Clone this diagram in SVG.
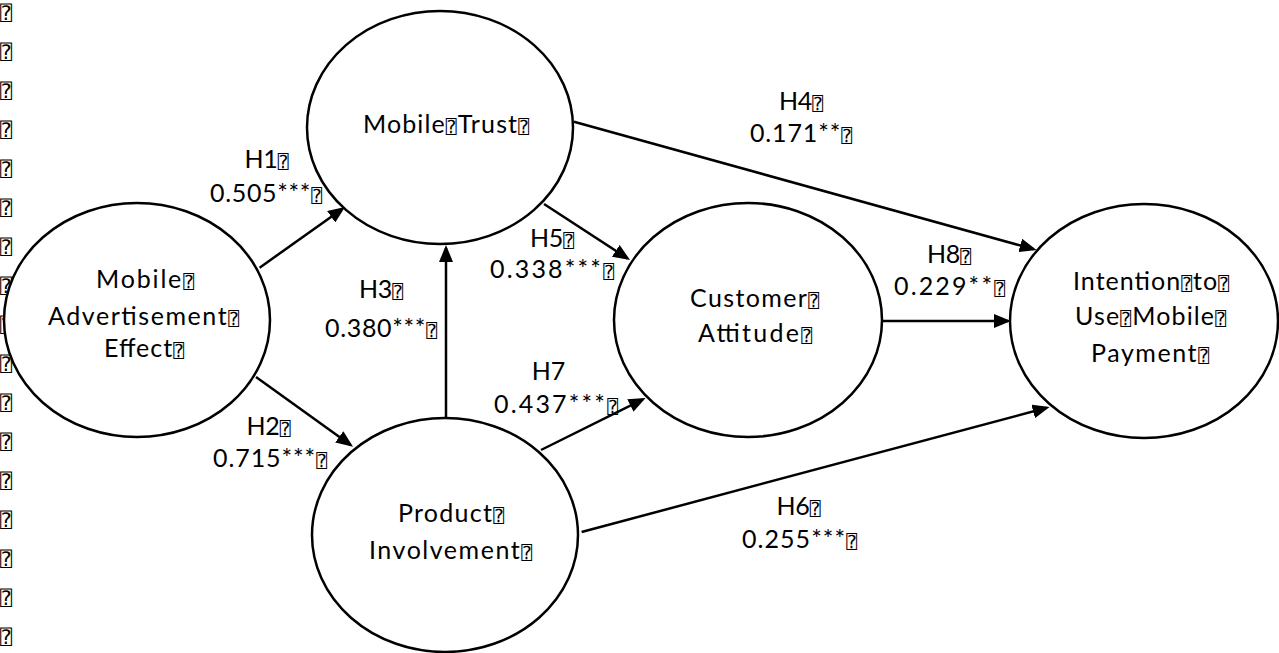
<svg xmlns="http://www.w3.org/2000/svg" width="1279" height="653" viewBox="0 0 1279 653">
  <style>
    .node ellipse { fill: #ffffff; stroke: #000000; stroke-width: 2.5; }
    .edges line { stroke: #000000; stroke-width: 2.5; fill: none; marker-end: url(#arrow); }
    text { font-family: Lato, "Liberation Sans", sans-serif; font-size: 25px; fill: #000000; text-anchor: middle; }
    .q { font-family: "DejaVu Sans Mono", "DejaVu Sans", monospace; font-size: 18px; }
    .margin text { font-family: "DejaVu Sans Mono", "DejaVu Sans", monospace; font-size: 20px; text-anchor: start; }
  </style>
  <defs>
    <marker id="arrow" markerUnits="userSpaceOnUse" markerWidth="17" markerHeight="14" refX="14" refY="7" orient="auto">
      <path d="M0,0 L17,7 L0,14 Z" fill="#000000"/>
    </marker>
  </defs>

  <rect width="1279" height="653" fill="#ffffff"/>

  <!-- column of placeholder marks along the left edge -->
  <g class="margin">
    <text x="0" y="20">⍰</text>
    <text x="0" y="59">⍰</text>
    <text x="0" y="98">⍰</text>
    <text x="0" y="137">⍰</text>
    <text x="0" y="176">⍰</text>
    <text x="0" y="215">⍰</text>
    <text x="0" y="254">⍰</text>
    <text x="0" y="293">⍰</text>
    <text x="0" y="332">⍰</text>
    <text x="0" y="371">⍰</text>
    <text x="0" y="410">⍰</text>
    <text x="0" y="449">⍰</text>
    <text x="0" y="488">⍰</text>
    <text x="0" y="527">⍰</text>
    <text x="0" y="566">⍰</text>
    <text x="0" y="605">⍰</text>
    <text x="0" y="644">⍰</text>
  </g>

  <!-- paths between constructs -->
  <g class="edges">
    <line id="e-h1" x1="259.6" y1="267.7" x2="342.6" y2="208.7"/>
    <line id="e-h2" x1="256" y1="377" x2="350.6" y2="445"/>
    <line id="e-h3" x1="446" y1="418" x2="446" y2="248"/>
    <line id="e-h4" x1="574" y1="121.7" x2="1033.7" y2="249.2"/>
    <line id="e-h5" x1="544" y1="204" x2="627.5" y2="258.4"/>
    <line id="e-h6" x1="581.6" y1="532" x2="1046.7" y2="407.8"/>
    <line id="e-h7" x1="541" y1="450" x2="642.9" y2="399.3"/>
    <line id="e-h8" x1="883" y1="321" x2="1008" y2="321"/>
  </g>

  <!-- path labels -->
  <g class="labels">
    <text x="266.5" y="168" textLength="44" lengthAdjust="spacing">H1<tspan class="q">⍰</tspan></text>
    <text x="266" y="202" textLength="112" lengthAdjust="spacing">0.505***<tspan class="q">⍰</tspan></text>
    <text x="268.5" y="435" textLength="44" lengthAdjust="spacing">H2<tspan class="q">⍰</tspan></text>
    <text x="270" y="467" textLength="114" lengthAdjust="spacing">0.715***<tspan class="q">⍰</tspan></text>
    <text x="381" y="298" textLength="44" lengthAdjust="spacing">H3<tspan class="q">⍰</tspan></text>
    <text x="381" y="337" textLength="112" lengthAdjust="spacing">0.380***<tspan class="q">⍰</tspan></text>
    <text x="801" y="110" textLength="44" lengthAdjust="spacing">H4<tspan class="q">⍰</tspan></text>
    <text x="801" y="142" textLength="102" lengthAdjust="spacing">0.171**<tspan class="q">⍰</tspan></text>
    <text x="552" y="247" textLength="44" lengthAdjust="spacing">H5<tspan class="q">⍰</tspan></text>
    <text x="552" y="278" textLength="124" lengthAdjust="spacing">0.338***<tspan class="q">⍰</tspan></text>
    <text x="798.5" y="515" textLength="44" lengthAdjust="spacing">H6<tspan class="q">⍰</tspan></text>
    <text x="799.5" y="548" textLength="115" lengthAdjust="spacing">0.255***<tspan class="q">⍰</tspan></text>
    <text x="548.5" y="380">H7</text>
    <text x="556" y="413" textLength="124" lengthAdjust="spacing">0.437***<tspan class="q">⍰</tspan></text>
    <text x="949" y="263" textLength="44" lengthAdjust="spacing">H8<tspan class="q">⍰</tspan></text>
    <text x="949.5" y="295" textLength="111" lengthAdjust="spacing">0.229**<tspan class="q">⍰</tspan></text>
  </g>

  <!-- constructs -->
  <g id="mobile-advertisement-effect" class="node">
    <ellipse cx="137" cy="320" rx="133" ry="117"/>
    <text x="145" y="288" textLength="98" lengthAdjust="spacing">Mobile<tspan class="q">⍰</tspan></text>
    <text x="143.5" y="325" textLength="191" lengthAdjust="spacing">Advertisement<tspan class="q">⍰</tspan></text>
    <text x="144" y="357" textLength="80" lengthAdjust="spacing">Effect<tspan class="q">⍰</tspan></text>
  </g>

  <g id="mobile-trust" class="node">
    <ellipse cx="440" cy="127.5" rx="133" ry="116.5"/>
    <text x="446" y="133" textLength="166" lengthAdjust="spacing">Mobile<tspan class="q">⍰</tspan>Trust<tspan class="q">⍰</tspan></text>
  </g>

  <g id="product-involvement" class="node">
    <ellipse cx="445" cy="535" rx="133" ry="117"/>
    <text x="451" y="522" textLength="106" lengthAdjust="spacing">Product<tspan class="q">⍰</tspan></text>
    <text x="450.5" y="559" textLength="163" lengthAdjust="spacing">Involvement<tspan class="q">⍰</tspan></text>
  </g>

  <g id="customer-attitude" class="node">
    <ellipse cx="748" cy="320" rx="134" ry="117"/>
    <text x="754.5" y="307" textLength="129" lengthAdjust="spacing">Customer<tspan class="q">⍰</tspan></text>
    <text x="755" y="342" textLength="114" lengthAdjust="spacing">Attitude<tspan class="q">⍰</tspan></text>
  </g>

  <g id="intention-to-use" class="node">
    <ellipse cx="1144" cy="321" rx="134" ry="117"/>
    <text x="1151" y="290" textLength="156" lengthAdjust="spacing">Intention<tspan class="q">⍰</tspan>to<tspan class="q">⍰</tspan></text>
    <text x="1150.5" y="325" textLength="151" lengthAdjust="spacing">Use<tspan class="q">⍰</tspan>Mobile<tspan class="q">⍰</tspan></text>
    <text x="1150" y="362" textLength="118" lengthAdjust="spacing">Payment<tspan class="q">⍰</tspan></text>
  </g>
</svg>
